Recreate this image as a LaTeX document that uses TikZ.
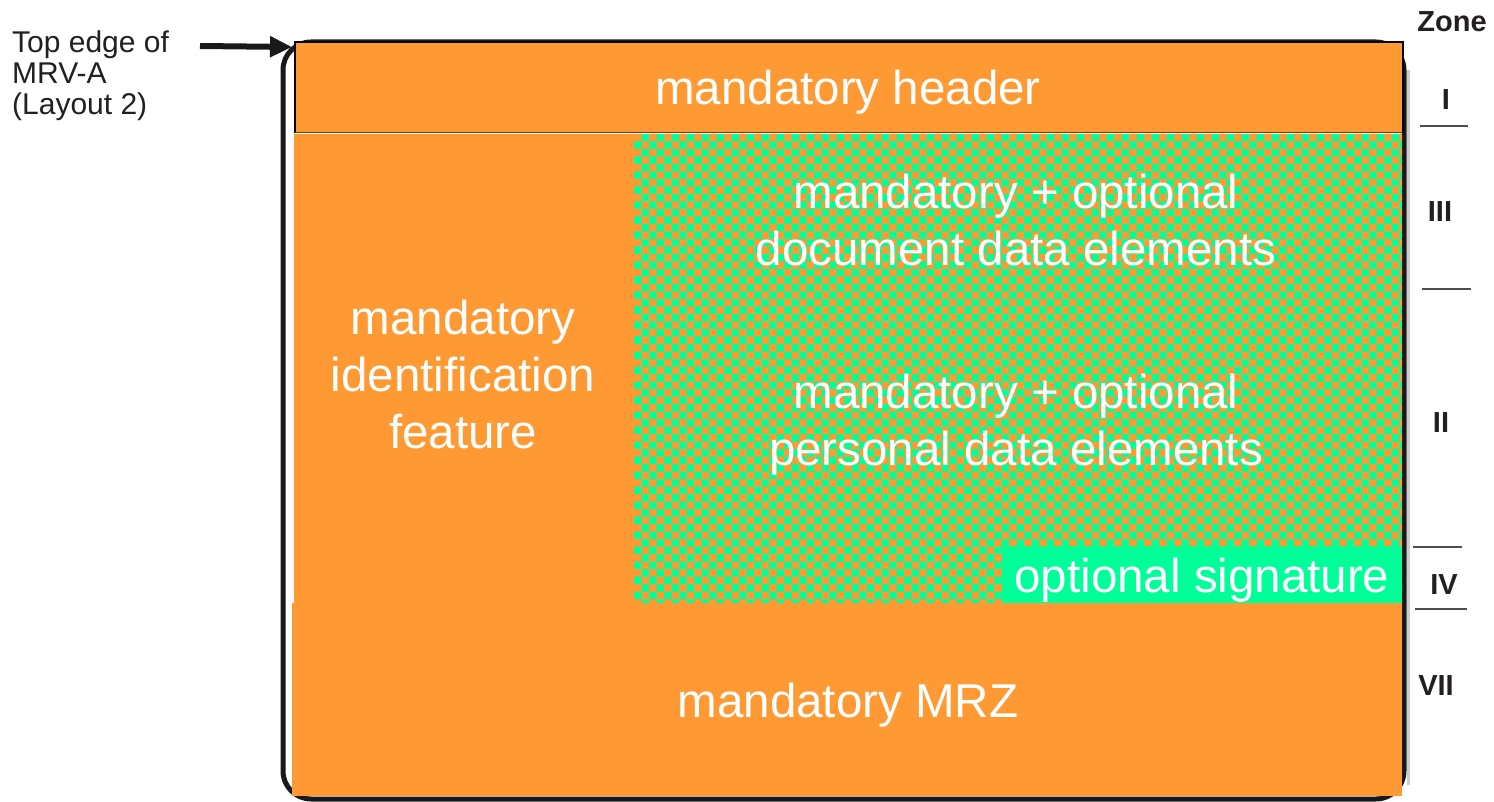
\documentclass[tikz,border=0pt]{standalone}
\usepackage{fontspec}
\setmainfont{Liberation Sans}
\usetikzlibrary{arrows.meta}
\definecolor{mrvorange}{HTML}{FF9933}
\definecolor{mrvgreen}{HTML}{00FF99}
\definecolor{labelink}{HTML}{231F20}
\tikzset{
  bigtxt/.style={text=white, align=center, inner sep=0pt, font=\fontsize{47.5}{57}\selectfont},
  zonetxt/.style={text=labelink, inner sep=0pt, font=\fontsize{29}{34}\selectfont\bfseries},
  zoneline/.style={draw=labelink!80, line width=2.2pt},
  sidetxt/.style={text=labelink, align=left, inner sep=0pt, font=\fontsize{30}{31}\selectfont},
  frameline/.style={draw=black!90, line width=5pt, rounded corners=28pt},
}
\begin{document}
\begin{tikzpicture}[x=1pt,y=-1pt]
\useasboundingbox (0,0) rectangle (1494,802);
% outer card frame
\draw[gray!40, line width=3pt] (1408,70) -- (1408,785);
\draw[frameline] (283,42) rectangle (1404,799);
% header
\fill[mrvorange] (295,42) rectangle (1402,133);
\draw[black, line width=2pt] (295,133) -- (295,42) -- (1403,42) -- (1403,133);
\draw[black!60!mrvorange, line width=1pt] (295,133) -- (1402,133);
% left identification column
\fill[mrvorange] (294,134) rectangle (634,604);
% checkerboard region
\fill[mrvgreen] (634,134) rectangle (1402,604);
\begin{scope}
\clip (634,134) rectangle (1402,604);
\fill[mrvorange]
  \foreach \i in {0,...,51}{
    \foreach \j in {0,...,31}{
      ({634+15*\i},{134+15*\j}) rectangle ++(7.5,7.5)
      ({641.5+15*\i},{141.5+15*\j}) rectangle ++(7.5,7.5)
    }
  };
\end{scope}
% optional signature
\fill[mrvgreen] (1002,546) rectangle (1402,604);
% MRZ
\fill[mrvorange] (292,603) rectangle (1402,796);
% texts
\node[bigtxt] (hdr) at (848,92) {mandatory header};
\node[bigtxt] (docdata) at (1016,220) {mandatory + optional\\document data elements};
\node[bigtxt] (persdata) at (1016,425) {mandatory + optional\\personal data elements};
\node[bigtxt] (ident) at (463,375) {mandatory\\identification\\feature};
\node[bigtxt] (sig) at (1202,580) {optional signature};
\node[bigtxt] (mrz) at (848,705) {mandatory MRZ};
% side label and arrow
\node[sidetxt, anchor=north west] (toplbl) at (12,31) {Top edge of\\MRV-A\\(Layout 2)};
\coordinate (arrS) at (200,46);
\coordinate (arrE) at (292,47);
\draw[line width=6pt, black!90, -{Triangle[length=22pt,width=20pt]}] (arrS) -- (arrE);
% zones
\node[zonetxt] (zone) at (1452,22) {Zone};
\node[zonetxt] (z1) at (1446,100) {I};
\draw[zoneline] (1420,126) -- (1468,126);
\node[zonetxt] (z3) at (1440,212) {III};
\draw[zoneline] (1422,289) -- (1471,289);
\node[zonetxt] (z2) at (1441,423) {II};
\draw[zoneline] (1413,547) -- (1462,547);
\node[zonetxt] (z4) at (1444,585) {IV};
\draw[zoneline] (1415,609) -- (1467,609);
\node[zonetxt] (z7) at (1436,686) {VII};
\end{tikzpicture}
\end{document}
